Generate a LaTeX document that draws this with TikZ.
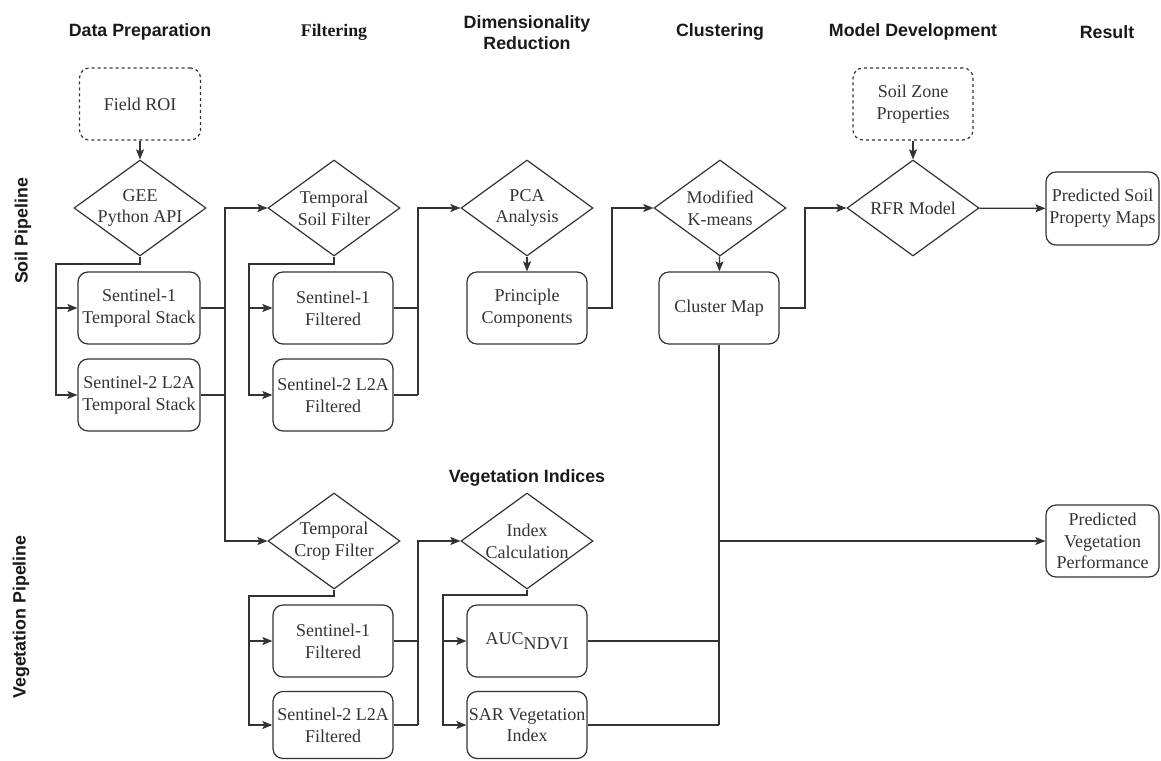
\documentclass[tikz,border=0pt]{standalone}
\usepackage{fontspec}
\setmainfont{Liberation Serif}
\setsansfont{Liberation Sans}
\usetikzlibrary{shapes.geometric,arrows.meta}
\newcommand\myNodeFont{\fontsize{18}{21.7}\selectfont}
\newcommand\myHdFont{\sffamily\bfseries\fontsize{17.8}{21}\selectfont}
\begin{document}
\begin{tikzpicture}[x=1pt,y=-1pt,
 ln/.style={draw=black!80, line width=1.2pt},
 arr/.style={ln, -{Stealth[length=10pt,width=8pt,inset=2pt]}},
 box/.style={draw=black!80, line width=1.2pt, rounded corners=10pt, minimum width=120pt, minimum height=72pt, align=center, font=\myNodeFont, text=black!80, inner sep=0pt},
 dbox/.style={box, dash pattern=on 3pt off 3pt, minimum width=121pt},
 dia/.style={draw=black!80, line width=1.2pt, diamond, minimum width=132pt, minimum height=96pt, inner sep=0pt},
 dl/.style={align=center, font=\myNodeFont, text=black!80},
 hd/.style={font=\myHdFont, align=center, text=black!90}]
\useasboundingbox (0,0) rectangle (1161,760);

% headers
\node[hd] (hdp) at (140,32) {Data Preparation};
\node[hd, font=\rmfamily\bfseries\fontsize{17.8}{21}\selectfont] (hfi) at (334,32) {Filtering};
\node[hd] (hdr) at (527,33) {Dimensionality\\Reduction};
\node[hd] (hcl) at (720,32) {Clustering};
\node[hd] (hmd) at (913,32) {Model Development};
\node[hd] (hre) at (1107,32) {Result};
\node[hd] (hvi) at (527,478) {Vegetation Indices};
\node[hd, rotate=90] (lsoil) at (23,231) {Soil Pipeline};
\node[hd, rotate=90] (lveg) at (21,617) {Vegetation Pipeline};

% soil pipeline
\node[dbox] (roi) at (140,104) {Field ROI};
\node[dia, label={[dl]center:{GEE\\Python API}}] (gee) at (140,208) {};
\node[box, minimum width=122pt] (s1) at (139,308) {Sentinel-1\\Temporal Stack};
\node[box, minimum width=122pt] (s2) at (139,395) {Sentinel-2 L2A\\Temporal Stack};
\node[dia, label={[dl]center:{Temporal\\Soil Filter}}] (tsf) at (334,208) {};
\node[box] (fs1) at (333,308) {Sentinel-1\\Filtered};
\node[box] (fs2) at (333,395) {Sentinel-2 L2A\\Filtered};
\node[dia, label={[dl]center:{PCA\\Analysis}}] (pca) at (527,208) {};
\node[box] (pc) at (527,308) {Principle\\Components};
\node[dia, label={[dl]center:{Modified\\K-means}}] (km) at (720,208) {};
\node[box] (cm) at (719,308) {Cluster Map};
\node[dbox, minimum width=120pt] (szp) at (913,104) {Soil Zone\\Properties};
\node[dia, label={[dl]center:{RFR Model}}] (rfr) at (913,208) {};
\node[box, minimum width=113pt, minimum height=73pt] (psm) at (1102.5,208.5) {Predicted Soil\\Property Maps};

% vegetation pipeline
\node[dia, label={[dl]center:{Temporal\\Crop Filter}}] (tcf) at (334,541) {};
\node[box] (vs1) at (333,641) {Sentinel-1\\Filtered};
\node[box, minimum height=67pt] (vs2) at (333,725) {Sentinel-2 L2A\\Filtered};
\node[dia, label={[dl]center:{Index\\Calculation}}] (ic) at (527,541) {};
\node[box] (auc) at (527,641) {AUC\raisebox{-4.5pt}{NDVI}};
\node[box, minimum height=67pt] (sar) at (527,725) {SAR Vegetation\\Index};
\node[box, minimum width=113pt] (pvp) at (1102.5,541) {Predicted\\Vegetation\\Performance};

% junction coordinates
\coordinate (j1) at (56,264);
\coordinate (b1) at (225,395);
\coordinate (j2) at (249,264);
\coordinate (b2) at (418,395);
\coordinate (b3) at (612,308);
\coordinate (b4) at (805,308);
\coordinate (j3) at (249,596);
\coordinate (b6) at (418,725);
\coordinate (j4) at (443,595);
\coordinate (b5) at (cm.south |- sar.east);

% soil connectors
\draw[arr] (roi) -- (gee);
\draw[arr] (gee.south) |- (j1) |- (s1.west);
\draw[arr] (j1) |- (s2.west);
\draw[ln] (s1.east) -| (b1);
\draw[ln] (s2.east) -- (b1);
\draw[arr] (b1) |- (tsf.west);
\draw[arr] (b1) |- (tcf.west);
\draw[arr] (tsf.south) |- (j2) |- (fs1.west);
\draw[arr] (j2) |- (fs2.west);
\draw[ln] (fs1.east) -| (b2);
\draw[ln] (fs2.east) -- (b2);
\draw[arr] (b2) |- (pca.west);
\draw[arr] (pca) -- (pc);
\draw[arr] (pc.east) -- (b3) |- (km.west);
\draw[arr] (km) -- (cm);
\draw[arr] (cm.east) -- (b4) |- (rfr.west);
\draw[arr] (szp) -- (rfr);
\draw[arr] (rfr) -- (psm);

% vegetation connectors
\draw[arr] (tcf.south) |- (j3) |- (vs1.west);
\draw[arr] (j3) |- (vs2.west);
\draw[ln] (vs1.east) -| (b6);
\draw[ln] (vs2.east) -- (b6);
\draw[arr] (b6) |- (ic.west);
\draw[arr] (ic.south) |- (j4) |- (auc.west);
\draw[arr] (j4) |- (sar.west);
\draw[ln] (cm.south) -- (b5);
\draw[ln] (auc.east) -- (auc.east -| b5);
\draw[ln] (sar.east) -- (b5);
\draw[arr] (cm.south |- pvp.west) -- (pvp.west);
\end{tikzpicture}
\end{document}
